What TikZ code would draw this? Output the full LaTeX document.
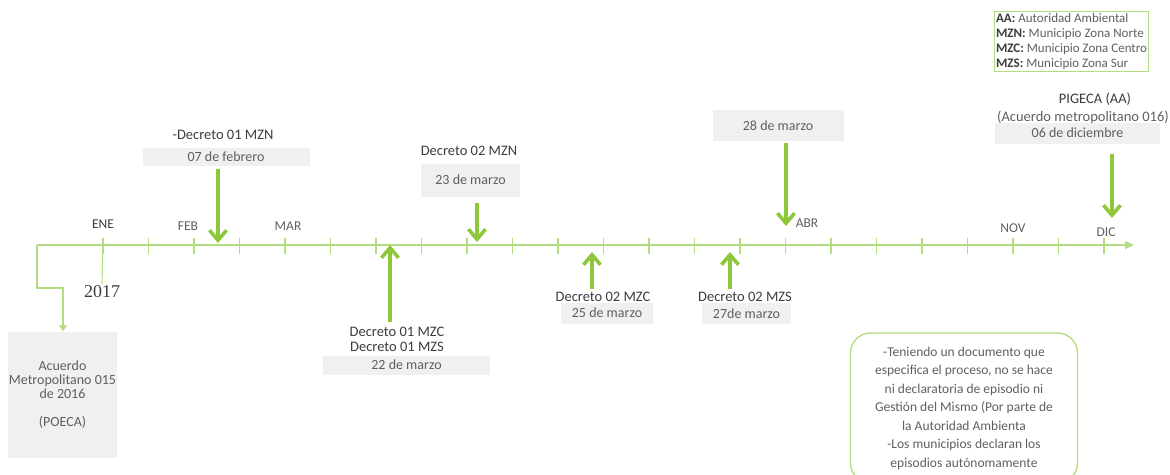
\documentclass[tikz,border=0pt]{standalone}
\usepackage{fontspec}
\setmainfont{Carlito}
\newfontfamily\yearfont{Liberation Serif}
\usetikzlibrary{arrows.meta,positioning}
\definecolor{linegreen}{RGB}{180,220,130}
\definecolor{arrowgreen}{RGB}{142,200,58}
\definecolor{boxgray}{RGB}{240,240,240}
\definecolor{txtdark}{RGB}{60,60,60}
\definecolor{txtgray}{RGB}{95,95,95}

\begin{document}
\begin{tikzpicture}[x=1pt, y=-1pt,
    month/.style={text=txtgray, font=\fontsize{13.5}{14}\selectfont, inner sep=0},
    decr/.style={text=txtdark, font=\fontsize{14.5}{15}\selectfont, inner sep=0, align=center},
    datebox/.style={fill=boxgray, text=txtgray, font=\fontsize{14}{15}\selectfont, inner sep=0},
    axisline/.style={draw=linegreen, line width=1.4pt},
    hit/.style={draw=arrowgreen, line width=3.6pt, -{Straight Barb[length=10pt,width=17pt]}}]
    \clip (0,0) rectangle (1170,474);

    % time axis
    \coordinate (axL) at (37,245);
    \coordinate (axR) at (1134,245);
    \draw[axisline, -{Triangle[length=9pt,width=8pt]}] (axL) -- (axR);
    \foreach \k in {0,...,22}
        \draw[axisline, line width=1.1pt] ({103+45.5*\k},238) -- ({103+45.5*\k},254);
    \draw[axisline, line width=1.1pt] (103,238) -- (102,284);
    \node[text=txtdark, font=\yearfont\fontsize{18}{18}\selectfont, inner sep=0] (year) at (102,292) {2017};

    % months
    \node[month, text=txtdark] (ene) at (103,224) {ENE};
    \node[month] (feb) at (188,226) {FEB};
    \node[month] (mar) at (288,226) {MAR};
    \node[month] (abr) at (807,223) {ABR};
    \node[month] (nov) at (1013,228) {NOV};
    \node[month] (dic) at (1106,232) {DIC};

    % POECA
    \node[fill=boxgray, minimum width=109pt, minimum height=126pt, inner sep=0, align=center,
          text=txtgray, font=\fontsize{14}{14}\selectfont] (poeca) at (62.5,394.5)
          {Acuerdo\\Metropolitano 015\\de 2016\\[14pt](POECA)};
    \coordinate (bend) at (63,288);
    \draw[axisline, line width=1.1pt, -{Triangle[length=6pt,width=8pt]}] (axL) |- (bend) -- (bend |- poeca.north);

    % decretos arriba
    \node[decr] (d01mzn) at (223,135) {-Decreto 01 MZN};
    \node[datebox, minimum width=167pt, minimum height=18pt] (dfeb) at (226,157) {07 de febrero};
    \coordinate (tfeb) at (218,243);
    \draw[hit, shorten <=3pt] (dfeb.south -| tfeb) -- (tfeb);

    \node[decr] (d02mzn) at (469,151) {Decreto 02 MZN};
    \node[datebox, minimum width=99pt, minimum height=33pt] (dm23) at (470.5,180) {23 de marzo};
    \coordinate (tm23) at (477,242);
    \draw[hit, shorten <=6pt] (dm23.south -| tm23) -- (tm23);

    \node[datebox, minimum width=131pt, minimum height=31pt] (dm28) at (778,125.5) {28 de marzo};
    \coordinate (tm28) at (786,226);
    \draw[hit, shorten <=2pt] (dm28.south -| tm28) -- (tm28);

    % decretos abajo
    \node[decr] (d01mzc) at (397,339.5) {Decreto 01 MZC\\Decreto 01 MZS};
    \node[datebox, minimum width=167pt, minimum height=19pt] (dm22) at (406.5,365) {22 de marzo};
    \coordinate (tm22) at (390,245);
    \draw[hit, shorten <=5pt] (d01mzc.north -| tm22) -- (tm22);

    \node[decr] (d02mzc) at (603,297) {Decreto 02 MZC};
    \node[datebox, minimum width=92pt, minimum height=21pt] (dm25) at (607,313) {25 de marzo};
    \coordinate (tm25) at (592,252);
    \draw[hit, shorten <=3pt] (d02mzc.north -| tm25) -- (tm25);

    \node[decr] (d02mzs) at (745,297) {Decreto 02 MZS};
    \node[datebox, minimum width=89pt, minimum height=21pt] (dm27) at (746.5,313.5) {27de marzo};
    \coordinate (tm27) at (730,252);
    \draw[hit, shorten <=3pt] (d02mzs.north -| tm27) -- (tm27);

    % PIGECA
    \node[decr] (pig) at (1095,99) {PIGECA (AA)};
    \node[decr, text=txtgray] (acu) at (1083,117) {(Acuerdo metropolitano 016)};
    \node[datebox, minimum width=165pt, minimum height=21pt] (ddic) at (1077.5,133) {06 de diciembre};
    \coordinate (tdic) at (1112,218);
    \draw[hit, shorten <=10pt] (ddic.south -| tdic) -- (tdic);

    % leyenda
    \node[draw=linegreen, line width=1.1pt, anchor=north west, inner xsep=1.5pt, inner ysep=2pt,
          align=left, text=txtgray, font=\fontsize{13}{15}\selectfont] (legend) at (994,11)
          {\textcolor{txtdark}{\textbf{AA:}} Autoridad Ambiental\\
           \textcolor{txtdark}{\textbf{MZN:}} Municipio Zona Norte\\
           \textcolor{txtdark}{\textbf{MZC:}} Municipio Zona Centro\\
           \textcolor{txtdark}{\textbf{MZS:}} Municipio Zona Sur};

    % nota
    \node[draw=linegreen, line width=1.4pt, rounded corners=20pt, minimum width=227pt, minimum height=150pt,
          align=center, text=txtgray, font=\fontsize{13.5}{18.5}\selectfont] (nota) at (964,408)
          {-Teniendo un documento que\\especifica el proceso, no se hace\\ni declaratoria de episodio ni\\
           Gestión del Mismo (Por parte de\\la Autoridad Ambienta\\-Los municipios declaran los\\
           episodios autónomamente};
\end{tikzpicture}
\end{document}
